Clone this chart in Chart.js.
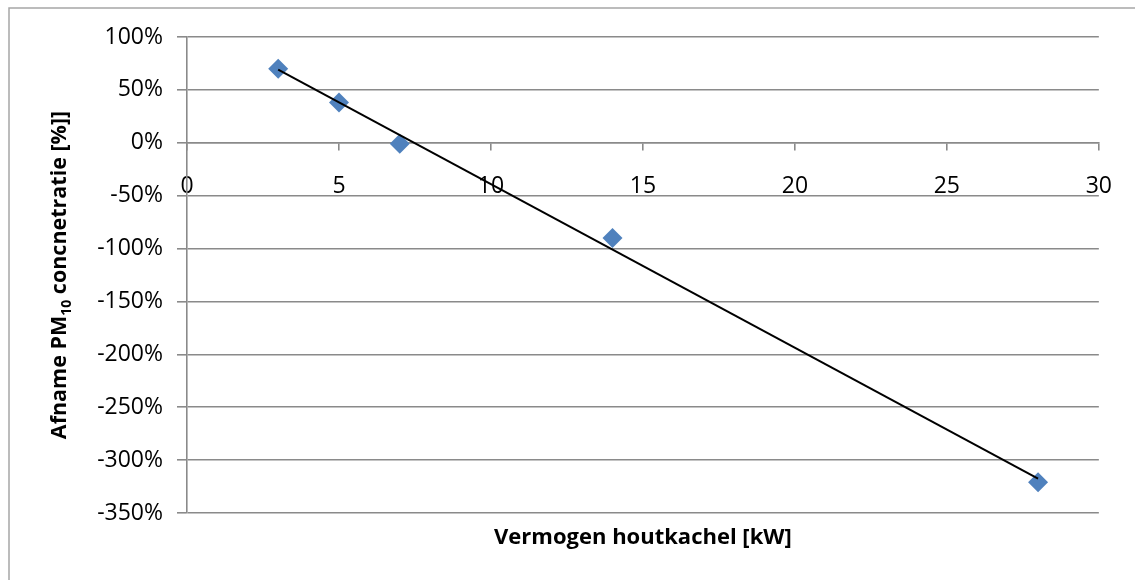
<!DOCTYPE html>
<html>
<head>
<meta charset="utf-8">
<script src="https://cdn.jsdelivr.net/npm/chart.js@4.4.1/dist/chart.umd.min.js"></script>
<style>
  html, body { margin: 0; padding: 0; background: #ffffff; }
  #wrap { width: 1135px; height: 580px; position: relative; }
</style>
</head>
<body>
<div id="wrap"><canvas id="chart" width="1135" height="580"></canvas></div>
<script>
// Measured points: stove power (kW) vs. decrease in PM10 concentration (%)
const stovePowerKW = [3, 5, 7, 14, 28];
const pm10Decrease = [70, 38, -1, -90, -321];

// Axis tick values
const xTickValues = [0, 5, 10, 15, 20, 25, 30];
const yTickValues = [100, 50, 0, -50, -100, -150, -200, -250, -300, -350];

// Axis titles (y title carries a subscript)
const xAxisTitle = 'Vermogen houtkachel [kW]';
const yAxisTitleMain = 'Afname PM';
const yAxisTitleSub = '10';
const yAxisTitleRest = ' concnetratie [%]]';

const FONT = '"Open Sans", "Liberation Sans", sans-serif';
const GRID = '#8a8a8a';
const BLUE = '#4f81bd';

// Linear least-squares trendline spanning the measured range
function linearFit(xs, ys) {
  const n = xs.length;
  const mx = xs.reduce((a, b) => a + b, 0) / n;
  const my = ys.reduce((a, b) => a + b, 0) / n;
  let sxy = 0, sxx = 0;
  for (let i = 0; i < n; i++) {
    sxy += (xs[i] - mx) * (ys[i] - my);
    sxx += (xs[i] - mx) * (xs[i] - mx);
  }
  const slope = sxy / sxx;
  return { slope, intercept: my - slope * mx };
}
const fit = linearFit(stovePowerKW, pm10Decrease);
const xMinData = Math.min(...stovePowerKW);
const xMaxData = Math.max(...stovePowerKW);
const trendPoints = [xMinData, xMaxData].map(x => ({ x, y: fit.intercept + fit.slope * x }));

const scatterPoints = stovePowerKW.map((x, i) => ({ x, y: pm10Decrease[i] }));

// Frame and axis titles drawn on the canvas
const decorPlugin = {
  id: 'decor',
  beforeDraw(chart) {
    const ctx = chart.ctx;
    ctx.save();
    ctx.fillStyle = '#ffffff';
    ctx.fillRect(0, 0, chart.width, chart.height);
    ctx.strokeStyle = '#a6a6a6';
    ctx.lineWidth = 1.5;
    ctx.strokeRect(9, 8, chart.width + 20, chart.height + 20);
    ctx.restore();
  },
  afterDraw(chart) {
    const ctx = chart.ctx;
    const area = chart.chartArea;
    ctx.save();
    ctx.fillStyle = '#000000';

    // x-axis title
    ctx.font = 'bold 22px ' + FONT;
    ctx.textAlign = 'center';
    ctx.textBaseline = 'alphabetic';
    ctx.fillText(xAxisTitle, (area.left + area.right) / 2, 544);

    // y-axis title, rotated, with subscript
    const mainFont = 'bold 21.5px ' + FONT;
    const subFont = 'bold 14px ' + FONT;
    ctx.font = mainFont;
    const w1 = ctx.measureText(yAxisTitleMain).width;
    const w3 = ctx.measureText(yAxisTitleRest).width;
    ctx.font = subFont;
    const w2 = ctx.measureText(yAxisTitleSub).width;
    const total = w1 + w2 + w3;
    ctx.translate(66, (area.top + area.bottom) / 2);
    ctx.rotate(-Math.PI / 2);
    ctx.textAlign = 'left';
    let x = -total / 2;
    ctx.font = mainFont;
    ctx.fillText(yAxisTitleMain, x, 0);
    x += w1;
    ctx.font = subFont;
    ctx.fillText(yAxisTitleSub, x, 5);
    x += w2;
    ctx.font = mainFont;
    ctx.fillText(yAxisTitleRest, x, 0);
    ctx.restore();
  }
};

new Chart(document.getElementById('chart'), {
  type: 'scatter',
  data: {
    datasets: [
      {
        label: 'Trend',
        type: 'line',
        data: trendPoints,
        borderColor: '#000000',
        borderWidth: 2,
        pointRadius: 0,
        fill: false,
        tension: 0
      },
      {
        label: 'Afname PM10',
        data: scatterPoints,
        pointStyle: 'rectRot',
        pointRadius: 10,
        pointHoverRadius: 10,
        backgroundColor: BLUE,
        borderColor: BLUE,
        borderWidth: 0
      }
    ]
  },
  options: {
    responsive: false,
    animation: false,
    events: [],
    layout: { padding: { left: 0, top: 37, right: 29, bottom: 67 } },
    plugins: {
      legend: { display: false },
      tooltip: { enabled: false },
      title: { display: false }
    },
    scales: {
      x: {
        type: 'linear',
        position: { y: 0 },
        min: 0,
        max: 30,
        afterBuildTicks(scale) { scale.ticks = xTickValues.map(v => ({ value: v })); },
        ticks: {
          color: '#000000',
          font: { family: FONT, size: 23 },
          padding: 23,
          maxRotation: 0,
          autoSkip: false
        },
        grid: {
          drawOnChartArea: false,
          drawTicks: true,
          tickLength: 7,
          color: GRID,
          lineWidth: 1.6
        },
        border: { display: true, color: GRID, width: 1.6 }
      },
      y: {
        type: 'linear',
        min: -350,
        max: 100,
        afterBuildTicks(scale) { scale.ticks = yTickValues.map(v => ({ value: v })); },
        afterFit(scale) { scale.width = 187; },
        ticks: {
          color: '#000000',
          font: { family: FONT, size: 23 },
          padding: 14,
          autoSkip: false,
          callback: v => v + '%'
        },
        grid: {
          drawOnChartArea: true,
          drawTicks: true,
          tickLength: 10,
          color: GRID,
          lineWidth: 1.6
        },
        border: { display: true, color: GRID, width: 1.6 }
      }
    }
  },
  plugins: [decorPlugin]
});
</script>
</body>
</html>
